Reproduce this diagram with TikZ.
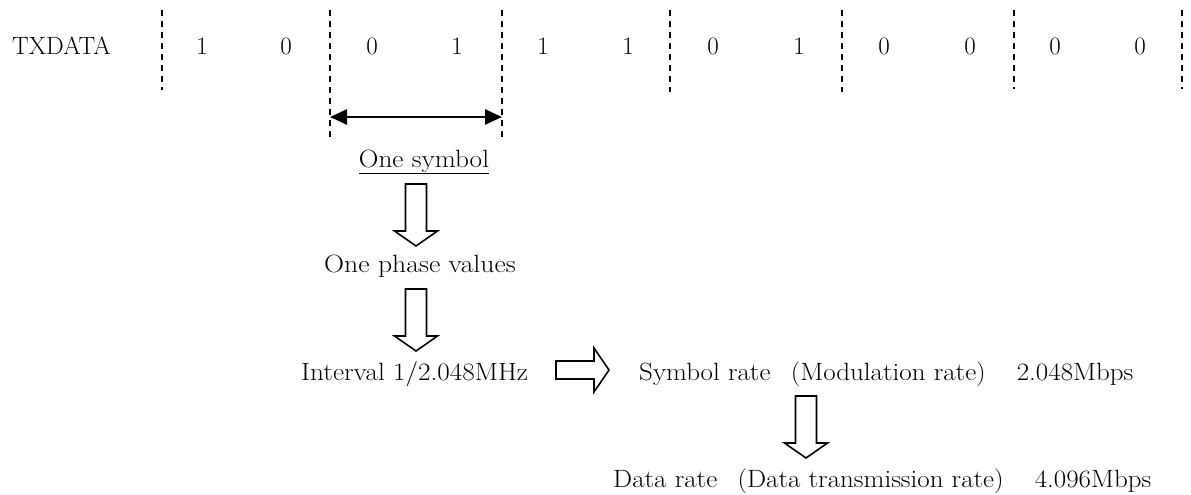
\documentclass[tikz,border=0pt]{standalone}
\usepackage{graphicx}
\usetikzlibrary{arrows.meta}
\tikzset{
  blk/.style={draw=black, line width=1.6pt, fill=white, line join=miter},
  downarrow/.pic={\draw[blk] (-10.5,0) -- (10.5,0) -- (10.5,47) -- (21.5,47) -- (0,62) -- (-21.5,47) -- (-10.5,47) -- cycle;},
  rightarrow/.pic={\draw[blk] (0,-9) -- (38,-9) -- (38,-22) -- (53,0) -- (38,22) -- (38,9) -- (0,9) -- cycle;}
}
\newcommand{\wpo}{\hspace{0.75em}(}
\newcommand{\wpc}{)\hspace{1.15em}}
\begin{document}
\begin{tikzpicture}[x=1pt,y=-1pt,
  every node/.style={inner sep=0pt, font=\fontsize{25}{29}\selectfont},
  divider/.style={line width=1.6pt, dash pattern=on 6pt off 5pt},
  dimline/.style={line width=2.5pt, {Triangle[length=17pt,width=15pt]}-{Triangle[length=17pt,width=15pt]}}]
\useasboundingbox (0,0) rectangle (1191,495);

% dividers
\foreach \x/\b [count=\i] in {162/90,330/140,502/140,670/92,842/92,1014/89,1182/89}{
  \coordinate (dt\i) at (\x,10);
  \coordinate (db\i) at (\x,\b);
  \draw[divider] (dt\i) -- (db\i);
}

% bits
\node[anchor=base west] (tx) at (12,55) {TXDATA};
\foreach \x/\d [count=\i] in {202/1,286/0,372/0,457/1,543/1,628/1,713/0,799/1,884/0,970/0,1055/0,1140/0}{
  \node[anchor=base] (b\i) at (\x,55) {\d};
}

% one-symbol span
\coordinate (aL) at (330,117);
\coordinate (aR) at (502,117);
\draw[dimline] (aL) -- (aR);

% texts
\node[anchor=base] (sym) at (424,167) {\scalebox{1.09}[1]{\underline{One symbol}}};
\node[anchor=base] (phase) at (420,272) {\scalebox{1.11}[1]{One phase values}};
\node[anchor=base west] (intv) at (301,380) {\scalebox{1.09}[1]{Interval 1/2.048MHz}};
\node[anchor=base west] (srate) at (639,380) {\scalebox{1.08}[1]{Symbol rate\wpo Modulation rate\wpc 2.048Mbps}};
\node[anchor=base west] (drate) at (613,487) {\scalebox{1.08}[1]{Data rate\wpo Data transmission rate\wpc 4.096Mbps}};

% block arrows
\pic at (416,184) {downarrow};
\pic at (416,289) {downarrow};
\pic at (806,396) {downarrow};
\pic at (556,370) {rightarrow};
\end{tikzpicture}
\end{document}
